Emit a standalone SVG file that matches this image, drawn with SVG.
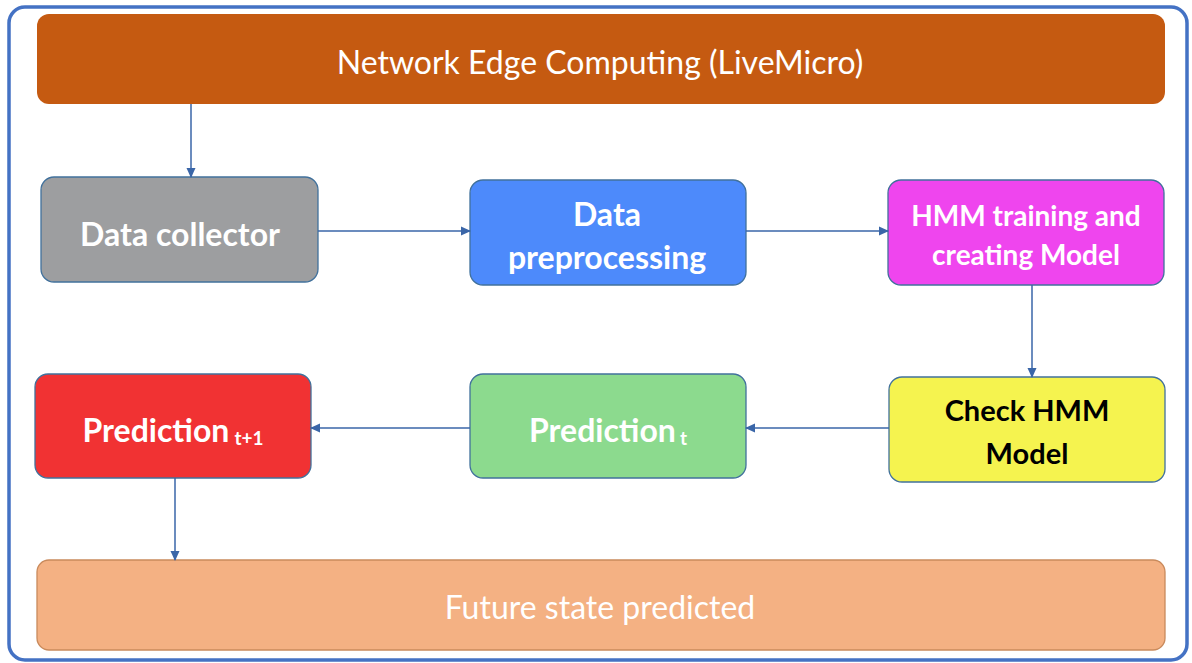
<svg xmlns="http://www.w3.org/2000/svg" width="1192" height="663" viewBox="0 0 1192 663">
<style>
.node{stroke:#41719C;stroke-width:1.3}
.t{font-family:Lato,"Liberation Sans",sans-serif;font-weight:bold;font-size:32px;fill:#fff;text-anchor:middle}
.tr{font-family:Lato,"Liberation Sans",sans-serif;font-size:32px;fill:#fff;text-anchor:middle}
.sub{font-size:19px}
.c{stroke:#3A66A8;stroke-width:1.5;fill:none;marker-end:url(#ah)}
</style>
<defs>
<marker id="ah" markerWidth="10" markerHeight="10" refX="9" refY="5" orient="auto" markerUnits="userSpaceOnUse">
<path d="M0,0.5 L10,5 L0,9.5 z" fill="#3A66A8"/>
</marker>
</defs>
<rect x="0" y="0" width="1192" height="663" fill="#fff"/>
<rect x="9" y="7" width="1178" height="653" rx="16" fill="#fff" stroke="#4472C4" stroke-width="3.5"/>
<g id="edge">
<rect x="37" y="14" width="1128" height="90" rx="12" fill="#C55A11"/>
<text class="tr" x="600" y="74">Network Edge Computing (LiveMicro)</text>
</g>
<g id="collector">
<rect class="node" x="41" y="177" width="277" height="105" rx="13" fill="#9D9EA0"/>
<text class="t" x="180" y="246">Data collector</text>
</g>
<g id="preprocessing">
<rect class="node" x="470" y="180" width="276" height="105" rx="13" fill="#4D8AFB"/>
<text class="t" x="607" y="226">Data</text>
<text class="t" x="607" y="269">preprocessing</text>
</g>
<g id="hmm">
<rect class="node" x="888" y="180" width="276" height="105" rx="13" fill="#EF45EE"/>
<text class="t" x="1026" y="226" style="font-size:28px">HMM training and</text>
<text class="t" x="1026" y="265" style="font-size:28px">creating Model</text>
</g>
<g id="check">
<rect class="node" x="889" y="377" width="276" height="105" rx="13" fill="#F5F34F"/>
<text class="t" x="1027" y="421" style="fill:#000;font-size:29px">Check HMM</text>
<text class="t" x="1027" y="464" style="fill:#000;font-size:29px">Model</text>
</g>
<g id="predt">
<rect class="node" x="470" y="374" width="276" height="104" rx="13" fill="#8CDA8E"/>
<text class="t" x="608" y="442">Prediction<tspan class="sub" dx="4" dy="3">t</tspan></text>
</g>
<g id="predt1">
<rect class="node" x="35" y="374" width="276" height="104" rx="13" fill="#F13233"/>
<text class="t" x="173" y="442">Prediction<tspan class="sub" dx="5" dy="3">t+1</tspan></text>
</g>
<g id="future">
<rect x="37" y="560" width="1128" height="90" rx="12" fill="#F4B183" stroke="#C98A5C" stroke-width="1.3"/>
<text class="tr" x="600" y="619">Future state predicted</text>
</g>
<g id="connectors">
<path class="c" d="M191,104 V177"/>
<path class="c" d="M318,231 H470"/>
<path class="c" d="M746,231 H888"/>
<path class="c" d="M1032,285 V377"/>
<path class="c" d="M889,428 H746"/>
<path class="c" d="M470,428 H311"/>
<path class="c" d="M175,478 V560"/>
</g>
</svg>
